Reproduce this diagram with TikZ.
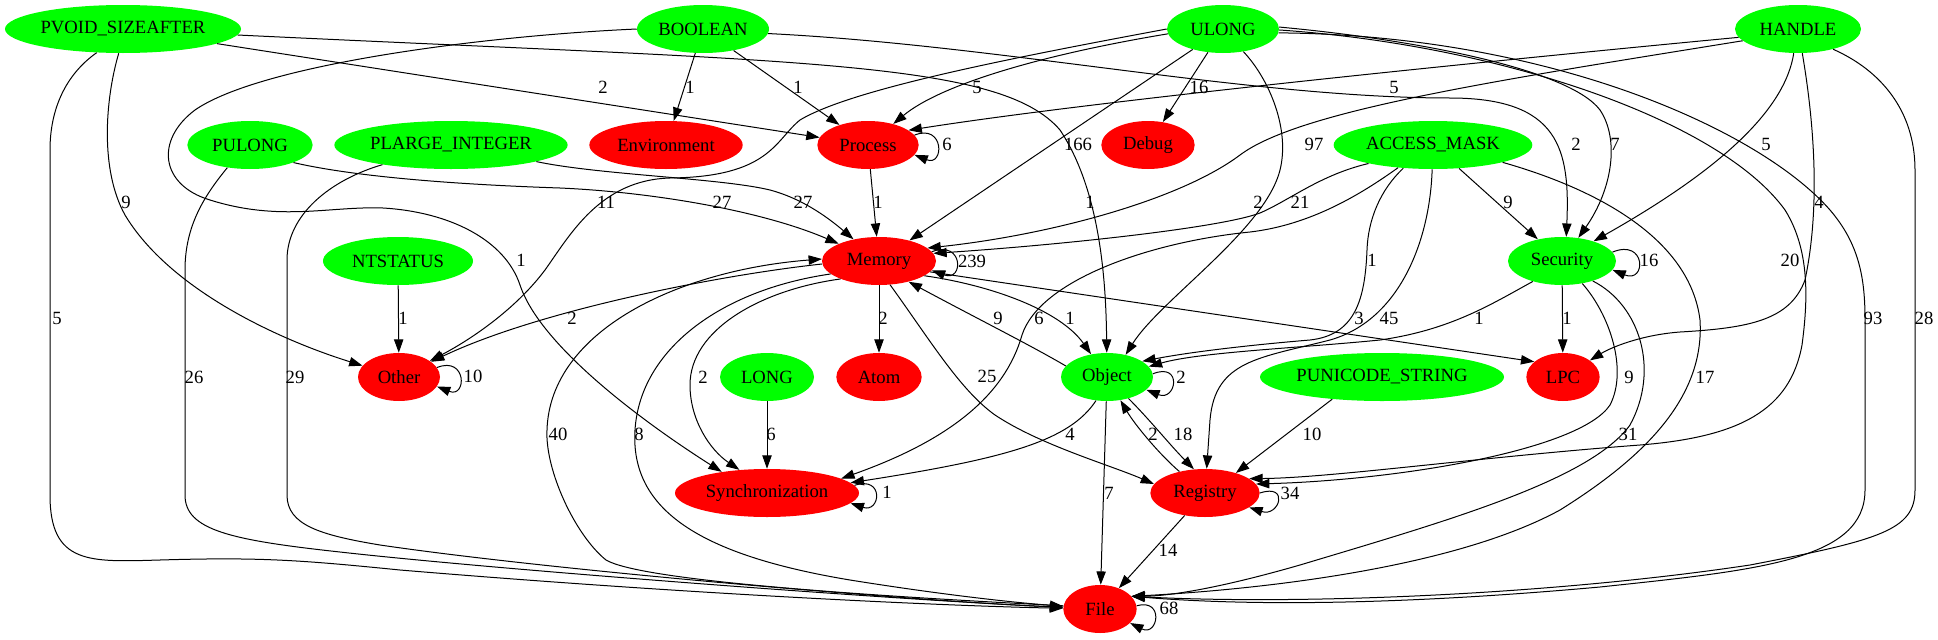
\documentclass[tikz,border=0pt]{standalone}
\usepackage{fontspec}
\setmainfont{Liberation Serif}
\usetikzlibrary{shapes.geometric,arrows.meta}
\definecolor{gvgreen}{RGB}{0,255,0}
\definecolor{gvred}{RGB}{255,0,0}
\newcommand{\nm}[1]{\makebox[0pt]{#1}}
\tikzset{
  tnode/.style={ellipse, minimum height=36pt, inner sep=0pt},
  gnode/.style={tnode, fill=gvgreen},
  rnode/.style={tnode, fill=gvred},
  dep/.style={line width=0.75pt, -{Triangle[length=10pt,width=7pt]}},
  lab/.style={inner sep=0pt},
}
\begin{document}
\begin{tikzpicture}[x=0.75pt, y=-0.75pt, font=\fontsize{14}{16}\selectfont]
\useasboundingbox (0,0) rectangle (1938,639);

% type nodes
\node[gnode, minimum width=177pt] (pv) at (123,29) {\nm{PVOID\_SIZEAFTER}};
\node[gnode, minimum width=99pt] (bo) at (703,29) {\nm{BOOLEAN}};
\node[gnode, minimum width=84pt] (ul) at (1223,29) {\nm{ULONG}};
\node[gnode, minimum width=94.5pt] (ha) at (1798,29) {\nm{HANDLE}};
\node[gnode, minimum width=94pt] (pu) at (250,145) {\nm{PULONG}};
\node[gnode, minimum width=175pt] (pl) at (451,145) {\nm{PLARGE\_INTEGER}};
\node[gnode, minimum width=149pt] (am) at (1433,145) {\nm{ACCESS\_MASK}};
\node[gnode, minimum width=112.5pt] (nt) at (398,261) {\nm{NTSTATUS}};
\node[gnode, minimum width=81pt] (se) at (1562,261) {\nm{Security}};
\node[gnode, minimum width=70.5pt] (lo) at (767,377) {\nm{LONG}};
\node[gnode, minimum width=69pt] (ob) at (1107,377) {\nm{Object}};
\node[gnode, minimum width=183pt] (pus) at (1382,377) {\nm{PUNICODE\_STRING}};
% category nodes
\node[rnode, minimum width=115pt] (en) at (666,145) {\nm{Environment}};
\node[rnode, minimum width=76pt] (pr) at (868,145) {\nm{Process}};
\node[rnode, minimum width=70pt] (db) at (1148,145) {\nm{Debug}};
\node[rnode, minimum width=85.5pt] (me) at (879,261) {\nm{Memory}};
\node[rnode, minimum width=61.5pt] (ot) at (399,377) {\nm{Other}};
\node[rnode, minimum width=64pt] (atm) at (879,377) {\nm{Atom}};
\node[rnode, minimum width=55pt] (lpc) at (1563,377) {\nm{LPC}};
\node[rnode, minimum width=138pt] (sy) at (767,493) {\nm{Synchronization}};
\node[rnode, minimum width=82pt] (re) at (1205,493) {\nm{Registry}};
\node[rnode, minimum width=55pt] (fi) at (1100,609) {\nm{File}};

% PVOID_SIZEAFTER
\draw[dep] (pv) -- (pr) node[lab] (lPvPr) at (603,87) {2};
\draw[dep] (pv.-3) .. controls (800,62) and (1000,60) .. (1060,130) .. controls (1100,190) and (1106,280) .. (ob) node[lab] (lPvOb) at (1090,202) {1};
\draw[dep] (pv.-100) .. controls (105,100) and (100,170) .. (125,215) .. controls (170,290) and (280,340) .. (ot) node[lab] (lPvOt) at (126,202) {9};
\draw[dep] (pv.-138) .. controls (65,75) and (50,110) .. (50,150) -- (50,495) .. controls (50,565) and (90,562) .. (160,560) .. controls (260,557) and (300,560) .. (400,570) .. controls (700,595) and (950,606) .. (fi) node[lab] (lPvFi) at (57,318) {5};

% BOOLEAN
\draw[dep] (bo) -- (en) node[lab] (lBoEn) at (690,87) {1};
\draw[dep] (bo) -- (pr) node[lab] (lBoPr) at (798,87) {1};
\draw[dep] (bo.-4) .. controls (1000,45) and (1250,98) .. (1450,98) .. controls (1560,98) and (1570,150) .. (se.80) node[lab] (lBoSe) at (1576,144) {2};
\draw[dep] (bo.180) .. controls (480,36) and (260,65) .. (195,110) .. controls (155,140) and (160,185) .. (210,200) .. controls (280,222) and (330,206) .. (383,208) .. controls (450,212) and (505,240) .. (520,285) .. controls (540,345) and (640,420) .. (sy.155) node[lab] (lBoSy) at (521,260) {1};

% ULONG
\draw[dep] (ul.185) .. controls (1040,55) and (940,85) .. (pr) node[lab] (lUlPr) at (977,87) {5};
\draw[dep] (ul.180) .. controls (1000,60) and (850,90) .. (800,120) .. controls (775,140) and (770,177) .. (670,178) .. controls (600,180) and (570,235) .. (545,270) .. controls (515,310) and (470,340) .. (ot) node[lab] (lUlOt) at (606,202) {11};
\draw[dep] (ul) -- (me) node[lab] (lUlMe) at (1078,144) {166};
\draw[dep] (ul) -- (db) node[lab] (lUlDb) at (1199,87) {16};
\draw[dep] (ul.-48) .. controls (1270,80) and (1290,130) .. (1280,170) .. controls (1265,230) and (1160,300) .. (ob.50) node[lab] (lUlOb) at (1258,202) {2};
\draw[dep] (ul.2) .. controls (1420,40) and (1570,70) .. (1600,110) .. controls (1620,140) and (1612,190) .. (se) node[lab] (lUlSe) at (1615,144) {7};
\draw[dep] (ul.-1) .. controls (1500,45) and (1720,120) .. (1785,210) .. controls (1810,250) and (1808,300) .. (1802,345) .. controls (1790,410) and (1740,437) .. (1640,445) .. controls (1480,457) and (1330,478) .. (re.18) node[lab] (lUlRe) at (1790,260) {20};
\draw[dep] (ul.-4) .. controls (1550,35) and (1760,130) .. (1830,210) .. controls (1860,245) and (1865,280) .. (1865,320) -- (1865,490) .. controls (1865,560) and (1760,570) .. (1600,587) .. controls (1400,605) and (1250,606) .. (fi.22) node[lab] (lUlFi) at (1873,318) {93};

% HANDLE
\draw[dep] (ha.188) .. controls (1500,60) and (1100,100) .. (pr.20) node[lab] (lHaPr) at (1394,87) {5};
\draw[dep] (ha.192) .. controls (1500,80) and (1300,110) .. (1240,155) .. controls (1180,200) and (1050,235) .. (me.15) node[lab] (lHaMe) at (1314,144) {97};
\draw[dep] (ha.-100) .. controls (1785,110) and (1720,170) .. (se.32) node[lab] (lHaSe) at (1766,144) {5};
\draw[dep] (ha.-80) .. controls (1812,110) and (1822,200) .. (1805,280) .. controls (1790,320) and (1750,328) .. (1680,332) .. controls (1640,335) and (1610,348) .. (lpc) node[lab] (lHaLpc) at (1819,202) {4};
\draw[dep] (ha.-30) .. controls (1880,70) and (1915,110) .. (1915,170) -- (1915,490) .. controls (1915,530) and (1880,540) .. (1750,565) .. controls (1550,595) and (1300,605) .. (fi.22) node[lab] (lHaFi) at (1924,318) {28};

% PULONG, PLARGE_INTEGER, NTSTATUS
\draw[dep] (pu.-22) .. controls (360,178) and (470,185) .. (560,188) .. controls (650,192) and (760,210) .. (me) node[lab] (lPuMe) at (722,202) {27};
\draw[dep] (pu.-135) .. controls (205,195) and (185,225) .. (185,270) -- (185,495) .. controls (185,530) and (230,540) .. (340,552) .. controls (500,570) and (900,600) .. (fi) node[lab] (lPuFi) at (194,377) {26};
\draw[dep] (pl.-11) .. controls (600,175) and (720,178) .. (770,190) .. controls (800,198) and (825,215) .. (me) node[lab] (lPlMe) at (803,202) {27};
\draw[dep] (pl.-164) .. controls (330,180) and (287,215) .. (287,260) -- (287,495) .. controls (287,525) and (320,535) .. (380,545) .. controls (550,570) and (900,600) .. (fi) node[lab] (lPlFi) at (295,377) {29};
\draw[dep] (nt) -- (ot) node[lab] (lNtOt) at (403,318) {1};

% Process
\draw[dep] (pr) -- (me) node[lab] (lPrMe) at (878,202) {1};
\draw[dep] (pr.12) .. controls +(30,-12) and +(30,12) .. (pr.-12) node[lab] (lPrPr) at (947,144) {6};

% ACCESS_MASK
\draw[dep] (am.-164) .. controls (1320,175) and (1290,200) .. (1260,213) .. controls (1220,228) and (1060,245) .. (me.8) node[lab] (lAmMe) at (1300,202) {21};
\draw[dep] (am) -- (se) node[lab] (lAmSe) at (1508,202) {9};
\draw[dep] (am.-147) .. controls (1360,195) and (1310,225) .. (1250,232) .. controls (1150,242) and (1040,280) .. (1022,335) .. controls (1005,395) and (950,440) .. (sy.11) node[lab] (lAmSy) at (1039,318) {6};
\draw[dep] (am.-142) .. controls (1380,190) and (1368,220) .. (1367,250) .. controls (1365,300) and (1355,335) .. (1310,340) .. controls (1250,345) and (1190,352) .. (ob.24) node[lab] (lAmOb) at (1372,260) {1};
\draw[dep] (am.-92) .. controls (1430,240) and (1400,320) .. (1330,340) .. controls (1260,358) and (1215,360) .. (1210,420) -- (re) node[lab] (lAmRe) at (1389,318) {45};
\draw[dep] (am.-14) .. controls (1600,190) and (1690,240) .. (1700,320) .. controls (1705,400) and (1640,460) .. (1560,510) .. controls (1450,570) and (1250,590) .. (fi.22) node[lab] (lAmFi) at (1705,377) {17};

% Memory
\draw[dep] (me.10) .. controls +(32,-12) and +(32,12) .. (me.-10) node[lab] (lMeMe) at (972,261) {239};
\draw[dep] (me.183) .. controls (720,275) and (540,310) .. (ot) node[lab] (lMeOt) at (572,318) {2};
\draw[dep] (me) -- (atm) node[lab] (lMeAtm) at (883,318) {2};
\draw[dep] (me.-18) .. controls (990,285) and (1060,310) .. (ob.125) node[lab] (lMeOb) at (1070,318) {1};
\draw[dep] (ob.165) .. controls (1030,345) and (980,320) .. (me.-35) node[lab] (lObMe) at (998,318) {9};
\draw[dep] (me.-155) .. controls (760,290) and (690,330) .. (690,385) .. controls (690,420) and (710,450) .. (sy.140) node[lab] (lMeSy) at (703,377) {2};
\draw[dep] (me.-65) .. controls (930,340) and (960,390) .. (995,415) .. controls (1040,445) and (1110,465) .. (re.170) node[lab] (lMeRe) at (987,376) {25};
\draw[dep] (me.-12) -- (lpc.152) node[lab] (lMeLpc) at (1359,318) {3};
\draw[dep] (me.-165) .. controls (720,290) and (640,350) .. (635,430) .. controls (630,510) and (700,555) .. (850,580) .. controls (950,596) and (1020,603) .. (fi) node[lab] (lMeFi) at (639,434) {8};
\draw[dep] (fi.175) .. controls (850,595) and (640,580) .. (606,560) .. controls (575,535) and (545,470) .. (547,430) .. controls (550,330) and (680,270) .. (me.178) node[lab] (lFiMe) at (558,434) {40};

% Security
\draw[dep] (se.10) .. controls +(34,-14) and +(34,14) .. (se.-10) node[lab] (lSeSe) at (1649,260) {16};
\draw[dep] (se) -- (lpc) node[lab] (lSeLpc) at (1567,318) {1};
\draw[dep] (se.-145) .. controls (1490,305) and (1450,330) .. (1380,340) .. controls (1300,348) and (1200,352) .. (ob.14) node[lab] (lSeOb) at (1479,318) {1};
\draw[dep] (se.-48) .. controls (1610,315) and (1628,370) .. (1610,405) .. controls (1580,450) and (1400,480) .. (re.10) node[lab] (lSeRe) at (1629,377) {9};
\draw[dep] (se.-33) .. controls (1640,305) and (1660,370) .. (1630,425) .. controls (1590,480) and (1450,520) .. (1300,565) .. controls (1220,588) and (1170,596) .. (fi.22) node[lab] (lSeFi) at (1628,434) {31};

% Other, LONG, PUNICODE_STRING
\draw[dep] (ot.14) .. controls +(30,-12) and +(30,12) .. (ot.-14) node[lab] (lOtOt) at (473,376) {10};
\draw[dep] (lo) -- (sy) node[lab] (lLoSy) at (771,434) {6};
\draw[dep] (pus.-156) -- (re.33) node[lab] (lPusRe) at (1312,434) {10};

% Object
\draw[dep] (ob.4) .. controls +(30,-12) and +(30,12) .. (ob.-18) node[lab] (lObOb) at (1181,377) {2};
\draw[dep] (ob.-45) .. controls (1150,420) and (1170,445) .. (re.115) node[lab] (lObRe) at (1183,434) {18};
\draw[dep] (re.140) .. controls (1160,455) and (1135,425) .. (ob.-60) node[lab] (lReOb) at (1153,434) {2};
\draw[dep] (ob.-115) .. controls (1070,440) and (1010,458) .. (sy.7) node[lab] (lObSy) at (1070,434) {4};
\draw[dep] (ob) -- (fi) node[lab] (lObFi) at (1109,493) {7};

% Synchronization, Registry, File
\draw[dep] (sy.5) .. controls +(30,-10) and +(30,10) .. (sy.-7) node[lab] (lSySy) at (887,492) {1};
\draw[dep] (re.0) .. controls +(30,-10) and +(30,10) .. (re.-18) node[lab] (lReRe) at (1290,493) {34};
\draw[dep] (re) -- (fi) node[lab] (lReFi) at (1168,550) {14};
\draw[dep] (fi.5) .. controls +(28,-8) and +(28,14) .. (fi.-25) node[lab] (lFiFi) at (1169,608) {68};
\end{tikzpicture}
\end{document}
